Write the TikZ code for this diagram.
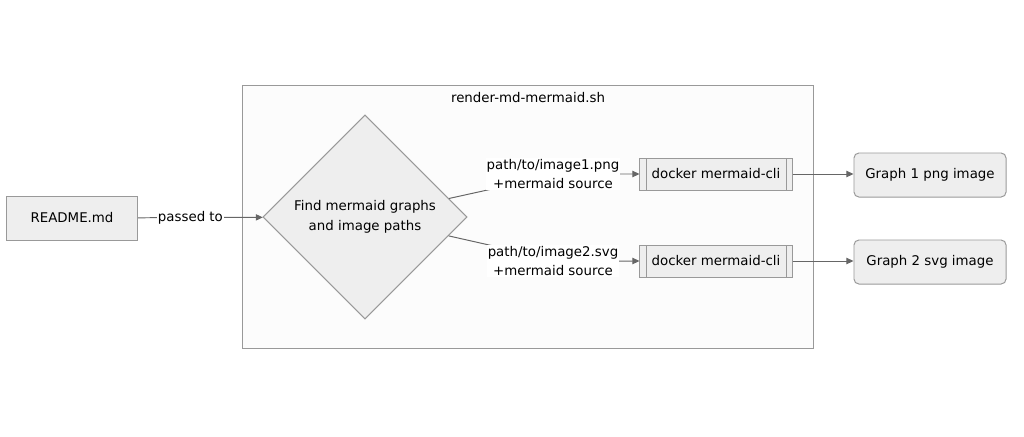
\documentclass[tikz,border=0pt]{standalone}
\usepackage{fontspec}
\setmainfont{DejaVu Sans}
\usetikzlibrary{shapes.geometric, arrows.meta}

\definecolor{boxfill}{HTML}{EEEEEE}
\definecolor{boxline}{HTML}{999999}
\definecolor{edgeline}{HTML}{666666}
\definecolor{clusterfill}{HTML}{FCFCFC}

\begin{document}
\begin{tikzpicture}[x=0.025cm, y=-0.025cm, font=\fontsize{9.5}{14.2}\selectfont,
    box/.style={draw=boxline, fill=boxfill, line width=0.7pt, inner sep=2pt},
    edge/.style={draw=edgeline, line width=0.7pt, -{Triangle[length=5pt, width=4.5pt]}},
    lbl/.style={fill=white, inner sep=0.5pt, align=center}]
        \useasboundingbox (0,0) rectangle (1024,436);

        % Cluster around the script
        \node[draw=boxline, fill=clusterfill, line width=0.7pt, minimum width=14.25cm, minimum height=6.55cm] (shell) at (528,217) {};
        \node[below=1pt] (shelltitle) at (shell.north) {render-md-mermaid.sh};

        % Input and decision
        \node[box, minimum width=3.275cm, minimum height=1.1cm] (readme) at (72,218) {README.md};
        \node[box, diamond, aspect=1, inner sep=0pt, minimum width=5.1cm, minimum height=5.1cm, align=center] (find) at (365,217) {Find mermaid graphs\\and image paths};

        \draw[edge] (readme) -- node[lbl, pos=0.42] {passed to} (find);

        % Two rendering rows
        \foreach \i/\ext/\y in {1/png/174, 2/svg/261} {
            \node[box, minimum width=3.8cm, minimum height=0.8cm,
                path picture={\draw[boxline, line width=0.7pt]
                    ([xshift=0.15cm]path picture bounding box.north west) -- ([xshift=0.15cm]path picture bounding box.south west)
                    ([xshift=-0.15cm]path picture bounding box.north east) -- ([xshift=-0.15cm]path picture bounding box.south east);}]
                (dock\i) at (716,\y) {docker mermaid-cli};
            \node[box, rounded corners=3.5pt, minimum width=3.8cm, minimum height=1.1cm] (graph\i) at (930,\y+1) {Graph \i{} \ext{} image};
            \coordinate (k\i) at (560,\y);
            \draw[edge] (find) -- (k\i) -- (dock\i);
            \node[lbl] (path\i) at (553,\y) {path/to/image\i.\ext\\+mermaid source};
            \draw[edge] (dock\i) -- (graph\i.west |- dock\i);
        }
\end{tikzpicture}
\end{document}
